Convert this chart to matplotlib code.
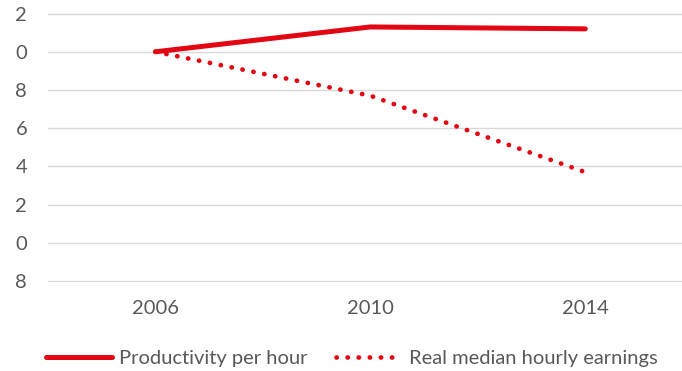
import matplotlib.pyplot as plt

# index values, 2006 = 100
years = ["2006", "2010", "2014"]
productivity = [100.0, 101.3, 101.2]
earnings = [100.0, 97.7, 93.7]

ytick_values = [88, 90, 92, 94, 96, 98, 100, 102]
ytick_labels = ["8", "0", "2", "4", "6", "8", "0", "2"]

red = "#e30613"
grey_text = "#595959"

plt.rcParams["font.family"] = ["Lato", "DejaVu Sans"]

fig = plt.figure(figsize=(6.82, 3.71), dpi=100)
ax = fig.add_axes([48 / 682, 1 - 282 / 371, 634 / 682, 282 / 371])

x = range(len(years))
ax.plot(x, productivity, color=red, lw=3.6, solid_capstyle="round",
        label="Productivity per hour")
ax.plot(x, earnings, color=red, lw=3.4, linestyle=(0, (0.05, 2.3)),
        dash_capstyle="round", label="Real median hourly earnings")

ax.set_xlim(-0.5, 2.45)
ax.set_ylim(87.95, 102.71)
ax.set_xticks(list(x))
ax.set_xticklabels(years)
ax.set_yticks(ytick_values)
ax.set_yticklabels(ytick_labels)

ax.grid(axis="y", color="#d9d9d9", lw=1)
ax.set_axisbelow(True)
for s in ax.spines.values():
    s.set_visible(False)
ax.tick_params(axis="both", length=0, colors=grey_text, labelsize=14.5)
ax.tick_params(axis="x", pad=13)
ax.tick_params(axis="y", pad=15)

fig.legend(loc="center", bbox_to_anchor=(352 / 682, 1 - 358 / 371), ncol=2,
           frameon=False, fontsize=14.5, handlelength=3.3, handletextpad=0.35,
           columnspacing=1.4, labelcolor=grey_text)

fig.savefig("out.png", dpi=100)
